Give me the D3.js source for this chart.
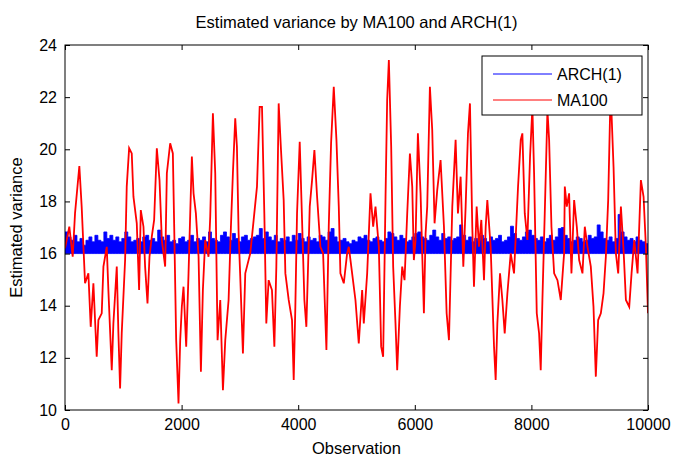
<!DOCTYPE html>
<html lang="en">
<head>
    <meta charset="UTF-8">
    <title>Estimated variance by MA100 and ARCH(1)</title>
    <script src="https://d3js.org/d3.v7.min.js"></script>
    <style>
        body { margin: 0; background: #fff; }
        text { font-family: "Liberation Sans", Arial, sans-serif; fill: #000; }
        .tick-label { font-size: 16px; }
        .axis-label { font-size: 16.5px; }
        .title { font-size: 16.5px; }
    </style>
</head>
<body>
    <svg width="675" height="458"></svg>
    <script>
        // tick labels
        const xTicks = [0, 2000, 4000, 6000, 8000, 10000];
        const yTicks = [10, 12, 14, 16, 18, 20, 22, 24];

        // ARCH(1) conditional variance, read as successive band heights (~51 obs apart)
        const archValues = [
            16.83,16.64,16.51,16.70,16.45,16.58,16.32,16.51,16.64,16.45,16.70,16.51,16.45,16.83,16.58,16.70,16.51,16.64,16.45,16.58,
            16.83,16.64,16.45,16.51,16.58,16.45,16.64,16.70,16.51,16.58,16.45,16.90,16.64,16.51,16.70,16.45,16.51,16.38,16.58,16.64,
            16.45,16.51,16.70,16.45,16.58,16.51,16.64,16.45,16.83,16.58,16.51,16.45,16.70,16.83,16.64,16.51,16.77,16.58,16.45,16.64,
            16.70,16.51,16.58,16.64,16.70,
            16.96,16.58,16.83,16.64,16.51,16.70,16.45,16.58,16.51,16.64,16.45,16.70,16.51,16.77,16.58,16.45,16.64,16.51,16.58,16.45,
            16.70,16.64,16.51,16.83,16.96,16.64,16.45,16.51,16.58,16.45,16.38,16.51,16.45,16.64,16.58,16.70,16.51,16.45,16.58,16.64,
            16.51,16.45,16.58,16.83,16.77,16.64,16.51,16.70,16.58,16.45,16.51,16.64,16.77,16.83,16.64,16.58,16.51,16.70,16.90,16.64,
            16.51,16.77,16.58,16.64,16.51,
            16.58,16.64,17.10,16.70,16.51,16.64,16.45,16.58,16.51,16.70,16.58,16.45,16.64,16.51,16.58,16.70,16.45,16.51,16.64,17.05,
            16.77,16.58,16.51,16.64,16.83,16.90,16.70,16.58,16.51,16.64,16.45,16.58,16.70,16.51,16.64,16.96,17.00,16.70,16.58,16.45,
            16.51,16.64,16.58,16.45,16.51,16.70,16.58,16.64,17.10,16.83,16.58,16.51,16.64,16.45,16.58,17.50,16.83,16.64,16.51,16.58,
            16.45,16.64,16.51,16.45,16.38
        ];
        const archBase = 16.0;

        // MA100 estimate: observation index and value
        const maObs = [
            0,29,74,132,172,246,286,344,401,441,487,544,573,630,659,716,744,802,830,888,916,945,973,1031,1059,1100,1145,1174,1231,1271,
            1300,1346,1374,1415,1449,1489,1529,1575,1621,1661,1718,1747,1804,1850,1873,1907,1947,1976,2004,2033,2079,2119,2176,2205,2245,
            2291,2331,2365,2405,2462,2491,2537,2577,2617,2663,2709,2749,2806,2846,2880,2920,2949,2978,3006,3052,3092,3121,3178,3236,3293,
            3339,3379,3419,3453,3493,3550,3591,3625,3665,3705,3751,3780,3837,3894,3923,3951,3980,4026,4066,4106,4140,4198,4238,4278,4324,
            4381,4427,4484,4524,4564,4610,4656,4696,4724,4782,4839,4868,4925,4982,5039,5097,5125,5183,5240,5286,5326,5383,5423,5457,5498,
            5526,5555,5595,5629,5669,5698,5744,5784,5824,5870,5916,5956,5984,6013,6053,6099,6127,6156,6185,6213,6259,6299,6339,6385,6442,
            6500,6546,6586,6643,6700,6740,6786,6832,6872,6912,6946,6986,7015,7061,7101,7141,7187,7216,7244,7301,7359,7387,7416,7462,7502,
            7542,7588,7645,7702,7771,7817,7845,7886,7931,7977,8017,8046,8092,8132,8160,8189,8229,8275,8304,8344,8390,8447,8504,8561,8573,
            8607,8647,8687,8733,8779,8819,8876,8916,8962,9019,9065,9105,9145,9191,9237,9277,9317,9352,9374,9409,9449,9489,9535,9581,9621,
            9678,9718,9764,9821,9878,9924,9964,10000
        ];
        const maValues = [
            16.2,16.52,17.03,15.88,17.54,19.36,17.80,14.86,15.24,13.19,14.86,12.04,13.45,13.71,15.50,16.26,14.60,11.53,13.32,15.50,12.94,10.83,12.94,15.75,18.57,20.04,19.84,18.18,17.16,14.60,
            17.67,17.03,15.50,14.09,15.88,16.65,17.29,20.04,18.82,16.52,15.50,19.08,20.23,19.84,17.03,12.68,10.25,12.68,13.96,14.73,12.43,15.24,19.72,18.31,17.54,
            15.88,11.47,14.60,16.52,15.88,17.41,21.38,19.08,12.68,14.22,10.76,12.68,14.22,17.03,19.08,21.19,20.10,16.77,15.11,12.17,15.24,15.50,16.01,17.29,18.57,
            21.63,21.63,17.54,13.32,14.98,14.60,12.43,15.50,21.76,19.97,18.05,15.24,14.22,13.45,11.15,13.96,17.54,20.29,17.29,14.22,13.19,17.80,18.82,19.97,18.18,
            16.26,16.01,12.30,17.03,20.23,22.40,20.36,17.80,15.24,14.86,16.01,16.26,15.24,14.22,12.55,14.60,13.32,15.24,18.31,17.03,17.80,16.26,12.43,12.04,18.18,
            21.89,23.42,20.10,15.50,13.32,11.53,13.96,15.50,14.98,17.54,19.84,18.57,15.75,16.52,20.61,18.31,16.01,13.71,16.77,17.80,22.40,20.74,17.16,18.44,19.59,
            17.03,13.71,12.68,17.80,20.36,17.54,18.95,15.50,17.80,20.61,21.76,17.03,14.73,17.80,16.26,17.29,14.98,17.03,18.05,16.26,12.43,11.15,13.32,15.24,14.22,
            12.94,14.47,16.01,15.24,18.57,20.36,20.61,17.54,16.52,19.72,21.60,19.08,13.71,12.94,11.53,14.22,17.54,21.50,20.36,17.03,15.24,14.98,14.22,16.01,18.57,
            17.80,18.31,15.24,18.05,17.03,15.75,15.24,17.03,16.26,15.50,13.96,11.28,13.45,13.71,14.47,15.88,18.05,21.60,21.40,19.33,16.01,15.24,17.80,16.13,14.22,
            13.96,15.24,16.52,15.24,18.82,18.18,16.26,13.71
        ];

        const margin = { top: 45, right: 27, bottom: 48, left: 65 };
        const width = 675 - margin.left - margin.right;
        const height = 458 - margin.top - margin.bottom;

        const svg = d3.select("svg");
        const g = svg.append("g")
            .attr("transform", `translate(${margin.left},${margin.top})`);

        const x = d3.scaleLinear().domain([0, 10000]).range([0, width]);
        const y = d3.scaleLinear().domain([10, 24]).range([height, 0]);

        g.append("defs").append("clipPath").attr("id", "plot-clip")
            .append("rect").attr("width", width).attr("height", height);

        // blue ARCH(1) band
        const archStep = 10000 / archValues.length;
        const archData = archValues.map((v, i) => ({ obs: i * archStep, v }));
        archData.push({ obs: 10000, v: archValues[archValues.length - 1] });
        g.append("path")
            .datum(archData)
            .attr("clip-path", "url(#plot-clip)")
            .attr("fill", "#0000ff")
            .attr("stroke", "#0000ff")
            .attr("stroke-width", 0.8)
            .attr("d", d3.area()
                .curve(d3.curveStepAfter)
                .x(d => x(d.obs))
                .y0(y(archBase))
                .y1(d => y(d.v)));

        // red MA100 line
        const maData = maObs.map((o, i) => ({ obs: o, v: maValues[i] }));
        g.append("path")
            .datum(maData)
            .attr("clip-path", "url(#plot-clip)")
            .attr("fill", "none")
            .attr("stroke", "#ff0000")
            .attr("stroke-width", 1.8)
            .attr("d", d3.line().x(d => x(d.obs)).y(d => y(d.v)));

        // axes box with inward ticks on all four sides (matlab style)
        const tickLen = 5;
        g.append("g")
            .attr("transform", `translate(0,${height})`)
            .call(d3.axisBottom(x).tickValues(xTicks).tickFormat(d3.format("d"))
                .tickSizeInner(-tickLen).tickSizeOuter(0).tickPadding(9))
            .call(a => a.select(".domain").remove())
            .call(a => a.selectAll("text").attr("class", "tick-label").attr("font-size", null).attr("font-family", null));
        g.append("g")
            .call(d3.axisTop(x).tickValues(xTicks).tickSizeInner(-tickLen).tickSizeOuter(0).tickFormat(""))
            .call(a => a.select(".domain").remove());
        g.append("g")
            .call(d3.axisLeft(y).tickValues(yTicks).tickSizeInner(-tickLen).tickSizeOuter(0).tickPadding(8))
            .call(a => a.select(".domain").remove())
            .call(a => a.selectAll("text").attr("class", "tick-label").attr("font-size", null).attr("font-family", null));
        g.append("g")
            .attr("transform", `translate(${width},0)`)
            .call(d3.axisRight(y).tickValues(yTicks).tickSizeInner(-tickLen).tickSizeOuter(0).tickFormat(""))
            .call(a => a.select(".domain").remove());
        g.append("rect")
            .attr("width", width).attr("height", height)
            .attr("fill", "none").attr("stroke", "#000").attr("stroke-width", 1);

        // legend
        const legend = g.append("g").attr("transform", `translate(${width - 166},11)`);
        legend.append("rect")
            .attr("width", 160).attr("height", 59)
            .attr("fill", "#fff").attr("stroke", "#000").attr("stroke-width", 1);
        const legendItems = [["ARCH(1)", "#0000ff"], ["MA100", "#ff0000"]];
        legendItems.forEach(([name, col], i) => {
            legend.append("line")
                .attr("x1", 11).attr("x2", 70)
                .attr("y1", 18 + i * 26).attr("y2", 18 + i * 26)
                .attr("stroke", col).attr("stroke-width", 1);
            legend.append("text")
                .attr("class", "tick-label")
                .attr("x", 75).attr("y", 18 + i * 26)
                .attr("dy", "0.35em")
                .text(name);
        });

        // title and axis labels
        svg.append("text")
            .attr("class", "title")
            .attr("x", margin.left + width / 2).attr("y", 28)
            .attr("text-anchor", "middle")
            .text("Estimated variance by MA100 and ARCH(1)");
        svg.append("text")
            .attr("class", "axis-label")
            .attr("x", margin.left + width / 2).attr("y", 454)
            .attr("text-anchor", "middle")
            .text("Observation");
        svg.append("text")
            .attr("class", "axis-label")
            .attr("transform", `translate(22,${margin.top + height / 2}) rotate(-90)`)
            .attr("text-anchor", "middle")
            .text("Estimated variance");
    </script>
</body>
</html>
